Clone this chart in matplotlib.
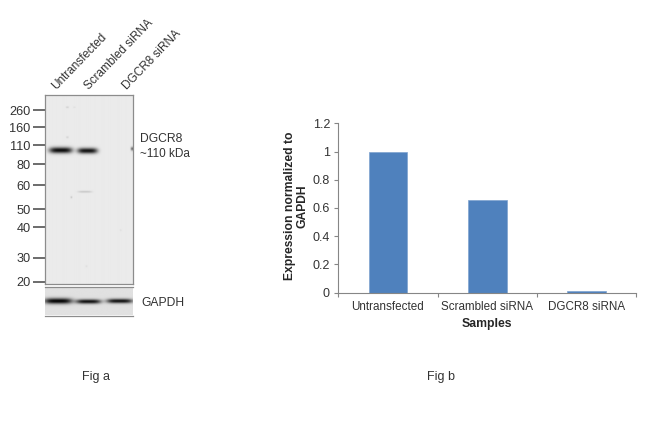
import numpy as np
import matplotlib
matplotlib.use("Agg")
import matplotlib.pyplot as plt

plt.rcParams["font.family"] = ["Liberation Sans", "DejaVu Sans"]

W, H = 650, 441

# chart data
samples = ["Untransfected", "Scrambled siRNA", "DGCR8 siRNA"]
expression = [1.0, 0.655, 0.015]
y_ticks = [0, 0.2, 0.4, 0.6, 0.8, 1, 1.2]
y_tick_labels = ["0", "0.2", "0.4", "0.6", "0.8", "1", "1.2"]

# blot data, read in picture pixels
marker_sizes = ["260", "160", "110", "80", "60", "50", "40", "30", "20"]
marker_rows = [110, 127, 145, 164, 185, 209, 227, 258, 282]
# x centre, y centre, half width, half height, darkness
main_bands = [
    (60.5, 150, 11.5, 3.0, 0.95),
    (87, 150.5, 10, 2.8, 0.92),
    (132, 148.5, 2, 1.8, 0.55),
    (84.5, 191.5, 7, 0.9, 0.16),
    (67, 107, 1.5, 0.8, 0.12),
    (74, 107, 1.2, 0.7, 0.06),
    (67, 137, 1.3, 1.0, 0.10),
    (71, 197, 0.9, 1.0, 0.16),
    (120, 230, 1.0, 1.0, 0.05),
    (86, 266, 1.0, 1.0, 0.06),
]
gapdh_bands = [
    (58, 301.5, 14, 2.8, 0.98),
    (88, 302, 12.5, 2.2, 0.92),
    (119, 301.5, 13, 2.2, 0.92),
]


def axes_px(x0, y0, x1, y1):
    # axes from picture pixels, y counted from the top
    return fig.add_axes([x0 / W, 1 - y1 / H, (x1 - x0) / W, (y1 - y0) / H])


def draw_blot(ax, x0, y0, x1, y1, bands, background):
    xs = np.arange(x0, x1, 0.5)
    ys = np.arange(y0, y1, 0.5)
    xx, yy = np.meshgrid(xs, ys)
    dark = np.zeros_like(xx)
    for bx, by, bw, bh, strength in bands:
        blob = np.exp(-((np.abs(xx - bx) / bw) ** 4) - ((yy - by) / bh) ** 2)
        dark = dark + strength * blob
    img = background * (1 - np.clip(dark, 0, 1))
    ax.imshow(img, cmap="gray", vmin=0, vmax=1, extent=[x0, x1, y1, y0],
              aspect="auto", interpolation="bilinear")
    ax.set_xticks([])
    ax.set_yticks([])
    for s in ax.spines.values():
        s.set_color("#8c8c8c")
        s.set_linewidth(0.9)


fig = plt.figure(figsize=(W / 100, H / 100), dpi=100)

# Fig a: main blot
ax_main = axes_px(45, 95, 132.5, 284)
draw_blot(ax_main, 45, 95, 132.5, 284, main_bands, 0.92)
ax_main.set_yticks(marker_rows)
ax_main.set_yticklabels(marker_sizes, fontsize=9.2, color="#333333")
ax_main.tick_params(axis="y", length=9, width=1.1, color="#444444", pad=1.5)

# Fig a: loading control
ax_gapdh = axes_px(45, 287, 132.5, 315.5)
draw_blot(ax_gapdh, 45, 287, 132.5, 315.5, gapdh_bands, 0.88)
ax_gapdh.spines["left"].set_visible(False)
ax_gapdh.spines["right"].set_visible(False)

# lane labels
lane_x = [58, 91, 129]
for lx, name in zip(lane_x, samples):
    fig.text(lx / W, 1 - 92 / H, name, rotation=46, rotation_mode="anchor",
             ha="left", va="bottom", fontsize=8.5, color="#333333")

fig.text(140 / W, 1 - 139 / H, "DGCR8", fontsize=8.7, color="#333333", va="center")
fig.text(140 / W, 1 - 154 / H, "~110 kDa", fontsize=8.5, color="#333333", va="center")
fig.text(141 / W, 1 - 303 / H, "GAPDH", fontsize=8.7, color="#333333", va="center")

# Fig b: bar chart
ax = axes_px(338.3, 123.3, 636, 292.7)
ax.bar(range(len(samples)), expression, width=0.39, color="#4f81bd",
       edgecolor="#7fa3cf", linewidth=0.5)
ax.set_xlim(-0.5, 2.5)
ax.set_ylim(0, 1.2)
ax.set_yticks(y_ticks)
ax.set_yticklabels(y_tick_labels, fontsize=9, color="#333333")
ax.set_xticks([-0.5, 0.5, 1.5, 2.5])
ax.set_xticklabels([])
ax.set_xticks([0, 1, 2], minor=True)
ax.set_xticklabels(samples, minor=True, fontsize=8.4, color="#333333")
ax.tick_params(axis="x", which="major", length=3, width=0.8, color="#868686")
ax.tick_params(axis="x", which="minor", length=0, pad=6)
ax.tick_params(axis="y", length=3, width=0.8, color="#868686", pad=3)
ax.spines["top"].set_visible(False)
ax.spines["right"].set_visible(False)
ax.spines["left"].set_color("#868686")
ax.spines["bottom"].set_color("#868686")

fig.text(487 / W, 1 - 324 / H, "Samples", fontsize=8.8, fontweight="bold",
         color="#262626", ha="center", va="center")
fig.text(296 / W, 1 - 206 / H, "Expression normalized to\nGAPDH", fontsize=8.7,
         fontweight="bold", color="#262626", rotation=90, ha="center",
         va="center", linespacing=1.05, multialignment="center")

fig.text(96 / W, 1 - 377 / H, "Fig a", fontsize=9, color="#333333", ha="center", va="center")
fig.text(441 / W, 1 - 377 / H, "Fig b", fontsize=9, color="#333333", ha="center", va="center")

fig.savefig("out.png", dpi=100)
